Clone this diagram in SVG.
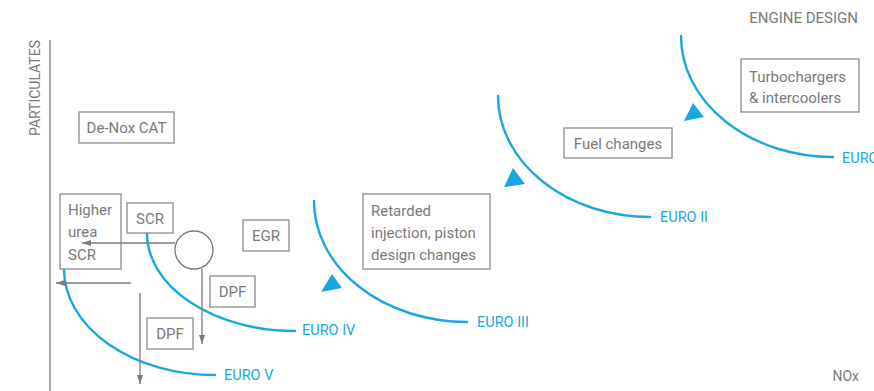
<svg xmlns="http://www.w3.org/2000/svg" width="874" height="391" viewBox="0 0 874 391">
  <style>
    .bg { fill: #ffffff; }
    .axis { stroke: #8c8c8c; stroke-width: 1.5; fill: none; }
    .box { fill: #ffffff; stroke: #8a8a8a; stroke-width: 1.3; }
    .txt { font-family: Roboto, "Liberation Sans", sans-serif; font-size: 15px; fill: #7a7a7a; }
    .mid { text-anchor: middle; }
    .axtxt { font-family: Roboto, "Liberation Sans", sans-serif; font-size: 14px; fill: #7a7a7a; }
    .curve { stroke: #1aa7e1; stroke-width: 2.4; fill: none; stroke-linecap: round; }
    .lbl { font-family: Roboto, "Liberation Sans", sans-serif; font-size: 14.5px; fill: #1aa7e1; }
    .tri { fill: #1aa7e1; }
    .flow { stroke: #7a7a7a; stroke-width: 1.3; fill: none; }
  </style>
  <defs>
    <marker id="head" viewBox="0 0 9 6" refX="9" refY="3" markerWidth="9" markerHeight="6" markerUnits="userSpaceOnUse" orient="auto">
      <path d="M0,0 L9,3 L0,6 z" fill="#7a7a7a"/>
    </marker>
  </defs>
  <rect class="bg" x="0" y="0" width="874" height="391"/>

  <!-- axes and axis titles -->
  <g id="axes">
    <line class="axis" x1="50" y1="40" x2="50" y2="391"/>
    <text class="axtxt" transform="translate(40 88) rotate(-90)" text-anchor="middle">PARTICULATES</text>
    <text class="axtxt" x="859" y="381" text-anchor="end">NOx</text>
    <text class="txt" x="858" y="23" text-anchor="end">ENGINE DESIGN</text>
  </g>

  <!-- emission limit curves -->
  <g id="curves">
    <path class="curve" d="M64 269 A151 106 0 0 0 215 375"/>
    <text class="lbl" x="224" y="380">EURO V</text>
    <path class="curve" d="M147 233 A148 98 0 0 0 295 331"/>
    <text class="lbl" x="302" y="335">EURO IV</text>
    <path class="curve" d="M314 201 A153 121 0 0 0 467 322"/>
    <text class="lbl" x="477" y="327">EURO III</text>
    <path class="curve" d="M498 96 A152 121 0 0 0 650 217"/>
    <text class="lbl" x="660" y="222">EURO II</text>
    <path class="curve" d="M681 36 A152 121 0 0 0 833 157"/>
    <text class="lbl" x="842" y="163">EURO I</text>
    <polygon class="tri" points="332,274 321,292 342,288"/>
    <polygon class="tri" points="513,168 504,187 525,184"/>
    <polygon class="tri" points="693,103 684,121 704,117"/>
  </g>

  <!-- technology boxes -->
  <g id="denox">
    <rect class="box" x="79" y="112" width="95" height="31"/>
    <text class="txt mid" x="126.5" y="133">De-Nox CAT</text>
  </g>
  <g id="higher-urea-scr">
    <rect class="box" x="60" y="194" width="61" height="75"/>
    <text class="txt" x="68" y="215">Higher</text>
    <text class="txt" x="68" y="237">urea</text>
    <text class="txt" x="68" y="260">SCR</text>
  </g>
  <g id="scr">
    <rect class="box" x="127" y="203" width="46" height="30"/>
    <text class="txt mid" x="150" y="224">SCR</text>
  </g>
  <g id="egr">
    <rect class="box" x="243" y="220" width="46" height="31"/>
    <text class="txt mid" x="266" y="241">EGR</text>
  </g>
  <g id="dpf-upper">
    <rect class="box" x="210" y="276" width="45" height="31"/>
    <text class="txt mid" x="232.5" y="297">DPF</text>
  </g>
  <g id="dpf-lower">
    <rect class="box" x="147" y="318" width="46" height="31"/>
    <text class="txt mid" x="170" y="339">DPF</text>
  </g>
  <g id="hub">
    <circle cx="194" cy="250" r="19" fill="#ffffff" stroke="#7a7a7a" stroke-width="1.3"/>
  </g>
  <g id="retarded">
    <rect class="box" x="363" y="194" width="127" height="75"/>
    <text class="txt" x="371" y="216">Retarded</text>
    <text class="txt" x="371" y="238">injection, piston</text>
    <text class="txt" x="371" y="260">design changes</text>
  </g>
  <g id="fuel">
    <rect class="box" x="564" y="128" width="108" height="30"/>
    <text class="txt mid" x="618" y="149">Fuel changes</text>
  </g>
  <g id="turbo">
    <rect class="box" x="741" y="59" width="118" height="53"/>
    <text class="txt" x="749" y="82">Turbochargers</text>
    <text class="txt" x="749" y="103">&amp; intercoolers</text>
  </g>

  <!-- direction arrows -->
  <g id="connectors">
    <line class="flow" x1="175" y1="243" x2="82" y2="243" marker-end="url(#head)"/>
    <line class="flow" x1="202" y1="269" x2="202" y2="344" marker-end="url(#head)"/>
    <line class="flow" x1="131" y1="283" x2="56" y2="283" marker-end="url(#head)"/>
    <line class="flow" x1="140" y1="293" x2="140" y2="384" marker-end="url(#head)"/>
  </g>
</svg>
